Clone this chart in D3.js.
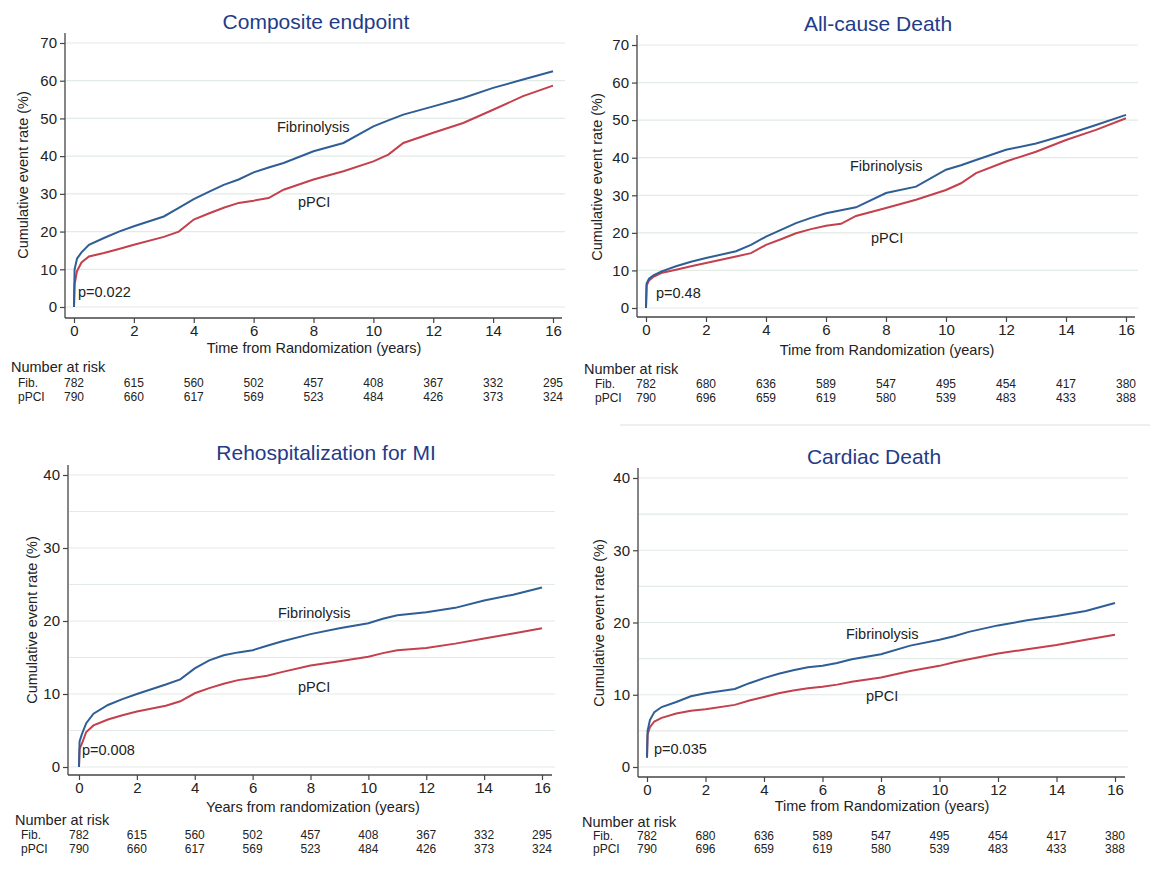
<!DOCTYPE html>
<html>
<head>
<meta charset="utf-8">
<script src="https://cdn.jsdelivr.net/npm/d3@7"></script>
<style>
  html, body { margin: 0; padding: 0; background: #fff; }
  svg { display: block; font-family: "Liberation Sans", Arial, sans-serif; }
</style>
</head>
<body>
<svg id="chart" width="1157" height="872"></svg>
<script>
// ---------------- DATA ----------------
const timePoints = [0, 0.02, 0.1, 0.25, 0.5, 1, 1.5, 2, 3, 3.5, 4, 4.5, 5, 5.5, 6, 6.5, 7, 8, 9, 10, 10.5, 11, 12, 13, 14, 15, 16];

const compositeFib  = [0, 10, 12.8, 14.5, 16.5, 18.3, 20, 21.4, 24, 26.3, 28.6, 30.5, 32.4, 33.8, 35.7, 37, 38.2, 41.3, 43.5, 47.9, 49.5, 51, 53.2, 55.4, 58.1, 60.3, 62.5];
const compositePPCI = [0, 6, 9.5, 11.8, 13.4, 14.3, 15.4, 16.5, 18.6, 20, 23.2, 24.8, 26.3, 27.6, 28.2, 28.9, 31.1, 33.8, 36, 38.6, 40.4, 43.5, 46.2, 48.8, 52.3, 55.9, 58.7];

const deathFib  = [0, 6.5, 7.8, 8.7, 9.7, 11.1, 12.3, 13.3, 15.1, 16.8, 19, 20.8, 22.6, 24, 25.2, 26, 26.8, 30.6, 32.3, 36.8, 38, 39.4, 42.1, 43.8, 46.1, 48.7, 51.4];
const deathPPCI = [0, 6, 7.3, 8.3, 9.3, 10.2, 11.1, 12, 13.7, 14.6, 16.8, 18.3, 19.9, 21, 21.9, 22.4, 24.5, 26.6, 28.8, 31.4, 33.2, 35.9, 39, 41.6, 44.7, 47.4, 50.5];

const miFib  = [0, 3.5, 4.5, 6, 7.3, 8.5, 9.3, 10, 11.3, 12, 13.5, 14.6, 15.3, 15.7, 16, 16.6, 17.2, 18.2, 19, 19.7, 20.3, 20.8, 21.2, 21.8, 22.8, 23.6, 24.6];
const miPPCI = [0, 2.5, 3.2, 4.8, 5.7, 6.5, 7.1, 7.6, 8.4, 9, 10.1, 10.8, 11.4, 11.9, 12.2, 12.5, 13, 13.9, 14.5, 15.1, 15.6, 16, 16.3, 16.9, 17.6, 18.3, 19];

const cardiacFib  = [1.3, 5, 6.5, 7.6, 8.3, 9, 9.8, 10.2, 10.8, 11.6, 12.3, 12.9, 13.4, 13.8, 14, 14.4, 14.9, 15.6, 16.8, 17.6, 18.1, 18.7, 19.6, 20.3, 20.9, 21.6, 22.7];
const cardiacPPCI = [1.3, 4.5, 5.5, 6.3, 6.8, 7.4, 7.8, 8, 8.6, 9.2, 9.7, 10.2, 10.6, 10.9, 11.1, 11.4, 11.8, 12.4, 13.3, 14, 14.5, 14.9, 15.7, 16.3, 16.9, 17.6, 18.3];

const xTicks = [0, 2, 4, 6, 8, 10, 12, 14, 16];
const yTicks70 = [0, 10, 20, 30, 40, 50, 60, 70];
const yTicks40 = [0, 10, 20, 30, 40];
const grid70 = [0, 10, 20, 30, 40, 50, 60, 70];
const grid40 = [0, 5, 10, 15, 20, 25, 30, 35, 40];

const riskFibA  = [782, 615, 560, 502, 457, 408, 367, 332, 295];
const riskPPCIA = [790, 660, 617, 569, 523, 484, 426, 373, 324];
const riskFibB  = [782, 680, 636, 589, 547, 495, 454, 417, 380];
const riskPPCIB = [790, 696, 659, 619, 580, 539, 483, 433, 388];

const titles = ["Composite endpoint", "All-cause Death", "Rehospitalization for MI", "Cardiac Death"];
const xTitles = ["Time from Randomization (years)", "Time from Randomization (years)", "Years from randomization  (years)", "Time from Randomization (years)"];
const yTitle = "Cumulative event rate (%)";
const pValues = ["p=0.022", "p=0.48", "p=0.008", "p=0.035"];

// ---------------- LAYOUT ----------------
const panels = [
  { fib: compositeFib, ppci: compositePPCI, yMax: 70, yTicks: yTicks70, grid: grid70, rFib: riskFibA, rPPCI: riskPPCIA,
    x0: 74, x1: 553, y0: 307, y1: 43, ax: 65, ay: 318, axEnd: 562, ayTop: 33,
    title: [316, 29], xt: [314, 353], yt: [23, 175], p: [78, 297],
    fibLab: [277, 132], ppciLab: [298, 207], nar: [11, 372], rowX: 18, rowY: [387, 401] },
  { fib: deathFib, ppci: deathPPCI, yMax: 70, yTicks: yTicks70, grid: grid70, rFib: riskFibB, rPPCI: riskPPCIB,
    x0: 646, x1: 1126, y0: 308, y1: 45, ax: 637, ay: 317, axEnd: 1135, ayTop: 35,
    title: [878, 31], xt: [887, 355], yt: [597, 177], p: [656, 298],
    fibLab: [850, 171], ppciLab: [871, 243], nar: [584, 374], rowX: 595, rowY: [388, 402], sep: [620, 1150, 425] },
  { fib: miFib, ppci: miPPCI, yMax: 40, yTicks: yTicks40, grid: grid40, rFib: riskFibA, rPPCI: riskPPCIA,
    x0: 79, x1: 542, y0: 767, y1: 475, ax: 68, ay: 775, axEnd: 552, ayTop: 465,
    title: [326, 460], xt: [313, 812], yt: [32, 620], p: [82, 755],
    fibLab: [278, 618], ppciLab: [298, 692], nar: [15, 825], rowX: 21, rowY: [839, 853] },
  { fib: cardiacFib, ppci: cardiacPPCI, yMax: 40, yTicks: yTicks40, grid: grid40, rFib: riskFibB, rPPCI: riskPPCIB,
    x0: 647, x1: 1115, y0: 767, y1: 478, ax: 638, ay: 777, axEnd: 1125, ayTop: 468,
    title: [874, 464], xt: [882, 811], yt: [599, 623], p: [654, 754],
    fibLab: [846, 639], ppciLab: [866, 701], nar: [582, 827], rowX: 593, rowY: [840, 853] }
];

const BLUE = "#2f5e96";
const RED = "#c3404c";
const TITLE = "#1f3c88";
const AXIS = "#444";
const GRID = "#e2ebe6";
const TXT = "#222";

const svg = d3.select("#chart");

panels.forEach((P, i) => {
  const g = svg.append("g");
  const x = d3.scaleLinear().domain([0, 16]).range([P.x0, P.x1]);
  const y = d3.scaleLinear().domain([0, P.yMax]).range([P.y0, P.y1]);

  // gridlines
  g.append("g").selectAll("line").data(P.grid).join("line")
    .attr("x1", P.ax + 1).attr("x2", P.axEnd + 3)
    .attr("y1", d => y(d)).attr("y2", d => y(d))
    .attr("stroke", GRID).attr("stroke-width", 1.2);

  // y axis
  const yAxis = g.append("g").attr("transform", `translate(${P.ax},0)`)
    .call(d3.axisLeft(y).tickValues(P.yTicks).tickSize(5).tickPadding(3));
  yAxis.select(".domain").remove();
  yAxis.selectAll(".tick line").attr("stroke", AXIS).attr("stroke-width", 1.2);
  yAxis.selectAll(".tick text").attr("fill", TXT).style("font-size", "15px").style("font-family", "Liberation Sans, Arial, sans-serif");
  g.append("line").attr("x1", P.ax).attr("x2", P.ax).attr("y1", P.ayTop).attr("y2", P.ay)
    .attr("stroke", AXIS).attr("stroke-width", 1.3);

  // x axis
  const xAxis = g.append("g").attr("transform", `translate(0,${P.ay})`)
    .call(d3.axisBottom(x).tickValues(xTicks).tickSize(5).tickPadding(2));
  xAxis.select(".domain").remove();
  xAxis.selectAll(".tick line").attr("stroke", AXIS).attr("stroke-width", 1.2);
  xAxis.selectAll(".tick text").attr("fill", TXT).style("font-size", "15px").style("font-family", "Liberation Sans, Arial, sans-serif");
  g.append("line").attr("x1", P.ax).attr("x2", P.axEnd).attr("y1", P.ay).attr("y2", P.ay)
    .attr("stroke", AXIS).attr("stroke-width", 1.3);

  // curves
  const line = d3.line().x((d, k) => x(timePoints[k])).y(d => y(d)).curve(d3.curveLinear);
  g.append("path").datum(P.ppci).attr("d", line).attr("fill", "none")
    .attr("stroke", RED).attr("stroke-width", 2);
  g.append("path").datum(P.fib).attr("d", line).attr("fill", "none")
    .attr("stroke", BLUE).attr("stroke-width", 2);

  // title
  g.append("text").attr("x", P.title[0]).attr("y", P.title[1]).attr("text-anchor", "middle")
    .attr("fill", TITLE).style("font-size", "21px").text(titles[i]);

  // axis titles
  g.append("text").attr("x", P.xt[0]).attr("y", P.xt[1]).attr("text-anchor", "middle")
    .attr("fill", TXT).style("font-size", "14.5px").text(xTitles[i]);
  g.append("text").attr("transform", `translate(${P.yt[0]},${P.yt[1]}) rotate(-90)`)
    .attr("text-anchor", "middle").attr("dy", "0.35em")
    .attr("fill", TXT).style("font-size", "14.5px").text(yTitle);

  // annotations
  g.append("text").attr("x", P.p[0]).attr("y", P.p[1]).attr("fill", TXT).style("font-size", "14.5px").text(pValues[i]);
  g.append("text").attr("x", P.fibLab[0]).attr("y", P.fibLab[1]).attr("fill", TXT).style("font-size", "14.5px").text("Fibrinolysis");
  g.append("text").attr("x", P.ppciLab[0]).attr("y", P.ppciLab[1]).attr("fill", TXT).style("font-size", "14.5px").text("pPCI");

  // number at risk
  g.append("text").attr("x", P.nar[0]).attr("y", P.nar[1]).attr("fill", TXT).style("font-size", "14.5px").text("Number at risk");
  g.append("text").attr("x", P.rowX).attr("y", P.rowY[0]).attr("fill", TXT).style("font-size", "12px").text("Fib.");
  g.append("text").attr("x", P.rowX).attr("y", P.rowY[1]).attr("fill", TXT).style("font-size", "12px").text("pPCI");
  g.append("g").selectAll("text").data(P.rFib).join("text")
    .attr("x", (d, k) => x(xTicks[k])).attr("y", P.rowY[0]).attr("text-anchor", "middle")
    .attr("fill", TXT).style("font-size", "12px").text(d => d);
  g.append("g").selectAll("text").data(P.rPPCI).join("text")
    .attr("x", (d, k) => x(xTicks[k])).attr("y", P.rowY[1]).attr("text-anchor", "middle")
    .attr("fill", TXT).style("font-size", "12px").text(d => d);

  if (P.sep) {
    g.append("line").attr("x1", P.sep[0]).attr("x2", P.sep[1]).attr("y1", P.sep[2]).attr("y2", P.sep[2])
      .attr("stroke", "#efefef").attr("stroke-width", 2);
  }
});
</script>
</body>
</html>
